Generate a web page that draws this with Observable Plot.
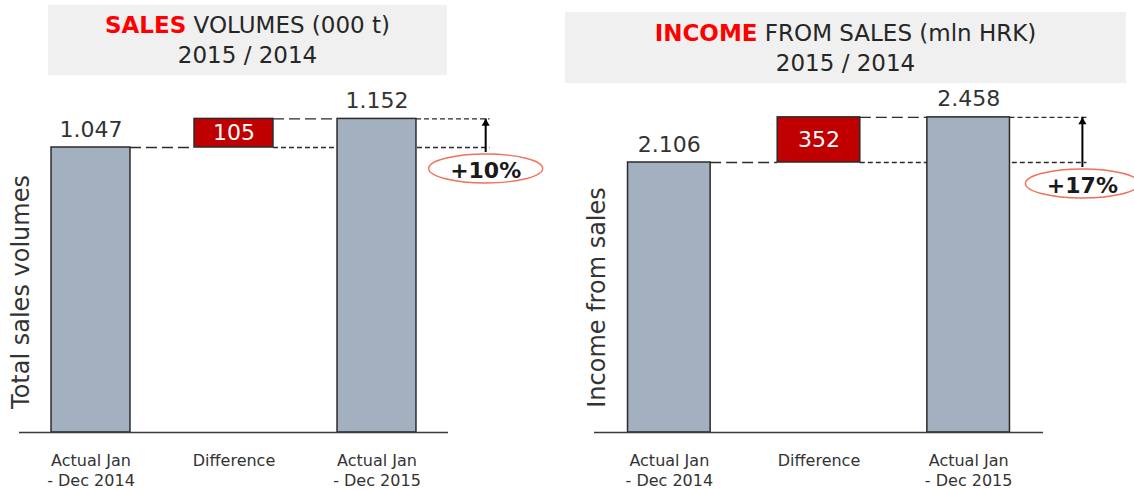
<!DOCTYPE html>
<html><head><meta charset="utf-8">
<script src="https://cdn.jsdelivr.net/npm/d3@7"></script>
<script src="https://cdn.jsdelivr.net/npm/@observablehq/plot@0.6"></script>
<style>
body{margin:0;background:#fff;font-family:"DejaVu Sans",Verdana,sans-serif;}
#root{position:relative;width:1134px;height:490px;overflow:hidden;background:#fff;}
.title{position:absolute;background:#f0f0f0;color:#262626;font-size:23px;line-height:30px;text-align:center;display:flex;flex-direction:column;justify-content:center;}
.title b{color:#f00;}
.panel{position:absolute;top:85px;}
.panel svg{overflow:visible;}
</style></head><body><div id="root"></div><script>
// ---- data ----
const categories = ["Actual Jan\n- Dec 2014", "Difference", "Actual Jan\n- Dec 2015"];
const salesTitle = ["SALES", " VOLUMES (000 t)", "2015 / 2014"];
const incomeTitle = ["INCOME", " FROM SALES (mln HRK)", "2015 / 2014"];
const salesTotals = [1047, 1152];   // 000 t
const salesDiff = 105;
const salesChange = "+10%";
const incomeTotals = [2106, 2458];  // mln HRK
const incomeDiff = 352;
const incomeChange = "+17%";
const yLabels = ["Total sales volumes", "Income from sales"];

// ---- styling / layout ----
const fmt = d3.formatLocale({decimal: ",", thousands: ".", grouping: [3], currency: ["", ""]}).format(",");
const HW = 0.276, ANNOT_X = 2.76, DASH_END = 2.79;
const BAR = "#a2b0bf", RED = "#c00000", INK = "#2b2b2b";
const ellipseSymbol = {
  draw(ctx) {
    const rx = 57, ry = 14.5, kx = rx * 0.5523, ky = ry * 0.5523;
    ctx.moveTo(rx, 0);
    ctx.bezierCurveTo(rx, ky, kx, ry, 0, ry);
    ctx.bezierCurveTo(-kx, ry, -rx, ky, -rx, 0);
    ctx.bezierCurveTo(-rx, -ky, -kx, -ry, 0, -ry);
    ctx.bezierCurveTo(kx, -ry, rx, -ky, rx, 0);
    ctx.closePath();
  }
};

function panel({totals, diff, change, yLabel, width, marginLeft, marginRight, marginTop, yDx, yDy}) {
  const [a, b] = totals;
  const bars = [
    {i: 0, y1: 0, y2: a, kind: "total", v: a},
    {i: 1, y1: a, y2: a + diff, kind: "diff", v: diff},
    {i: 2, y1: 0, y2: b, kind: "total", v: b}
  ];
  const totalsOnly = bars.filter(d => d.kind === "total");
  const diffOnly = bars.filter(d => d.kind === "diff");
  const longDash = [{x1: 0 + HW, x2: 1 - HW, y: a}, {x1: 1 + HW, x2: 2 - HW, y: b}];
  const shortBack = [{x1: 1 + HW, x2: DASH_END, y: a}];
  const shortFront = [{x1: 2 + HW, x2: DASH_END, y: b}];
  const annot = [{x: ANNOT_X, y1: a, y2: b, t: change}];
  return Plot.plot({
    width, height: 405, marginLeft, marginRight, marginTop, marginBottom: 58,
    x: {domain: [-0.5, 2.5], axis: null},
    y: {domain: [0, a], axis: null},
    style: {fontFamily: "DejaVu Sans", background: "transparent", overflow: "visible"},
    marks: [
      Plot.ruleY(shortBack, {x1: "x1", x2: "x2", y: "y", stroke: INK, strokeWidth: 1.4, strokeDasharray: "5,3"}),
      Plot.rect(bars, {x1: d => d.i - HW, x2: d => d.i + HW, y1: "y1", y2: "y2",
        fill: d => d.kind === "diff" ? RED : BAR, stroke: INK, strokeWidth: 1.5}),
      Plot.ruleY(longDash, {x1: "x1", x2: "x2", y: "y", stroke: INK, strokeWidth: 1.4, strokeDasharray: "11,5"}),
      Plot.ruleY(shortFront, {x1: "x1", x2: "x2", y: "y", stroke: INK, strokeWidth: 1.4, strokeDasharray: "5,3"}),
      Plot.ruleY([0], {stroke: "#3a3a3a", strokeWidth: 1.5}),
      Plot.text(totalsOnly, {x: "i", y: "y2", text: d => fmt(d.v), lineAnchor: "bottom", dy: -11,
        fontSize: 22, fill: "#333"}),
      Plot.text(diffOnly, {x: "i", y: d => (d.y1 + d.y2) / 2, text: d => fmt(d.v), lineAnchor: "middle",
        fontSize: 22, fill: "#fff"}),
      Plot.ruleX(annot, {x: "x", y1: "y1", y2: "y2", stroke: "#000", strokeWidth: 2, insetTop: 5}),
      Plot.dot(annot, {x: "x", y: "y2", symbol: "triangle", r: 3, fill: "#000", stroke: "none", dy: 4.6}),
      Plot.dot(annot, {x: "x", y: "y1", symbol: ellipseSymbol, r: 5, fill: "#fff", stroke: "#f0705a", strokeWidth: 1.4, dy: 21}),
      Plot.text(annot, {x: "x", y: "y1", text: "t", dy: 23, lineAnchor: "middle", fontSize: 22, fontWeight: "bold", fill: "#1a1a1a"}),
      Plot.text(categories, {x: (d, i) => i, text: d => d, frameAnchor: "bottom", lineAnchor: "top", dy: 19,
        fontSize: 16, lineHeight: 1.25, fill: "#333"}),
      Plot.text([yLabel], {text: d => d, frameAnchor: "left", rotate: -90, lineAnchor: "middle", textAnchor: "middle",
        dx: yDx, dy: yDy, fontSize: 24, fill: "#333"})
    ]
  });
}

const root = document.getElementById("root");
function addTitle(parts, box) {
  const div = document.createElement("div");
  div.className = "title";
  Object.assign(div.style, box);
  const l1 = document.createElement("div");
  const b = document.createElement("b"); b.textContent = parts[0];
  l1.appendChild(b); l1.appendChild(document.createTextNode(parts[1]));
  const l2 = document.createElement("div"); l2.textContent = parts[2];
  div.appendChild(l1); div.appendChild(l2);
  root.appendChild(div);
}
function addPanel(svg, left) {
  const wrap = document.createElement("div");
  wrap.className = "panel"; wrap.style.left = left + "px";
  wrap.appendChild(svg); root.appendChild(wrap);
}

addPanel(panel({totals: salesTotals, diff: salesDiff, change: salesChange, yLabel: yLabels[0],
  width: 560, marginLeft: 19, marginRight: 112, marginTop: 62, yDx: 2, yDy: 2}), 0);
addPanel(panel({totals: incomeTotals, diff: incomeDiff, change: incomeChange, yLabel: yLabels[1],
  width: 574, marginLeft: 34, marginRight: 91, marginTop: 77, yDx: 3, yDy: 0}), 560);
addTitle(salesTitle, {left: "48px", top: "5px", width: "399px", height: "70px"});
addTitle(incomeTitle, {left: "565px", top: "12px", width: "561px", height: "71px"});
</script></body></html>
